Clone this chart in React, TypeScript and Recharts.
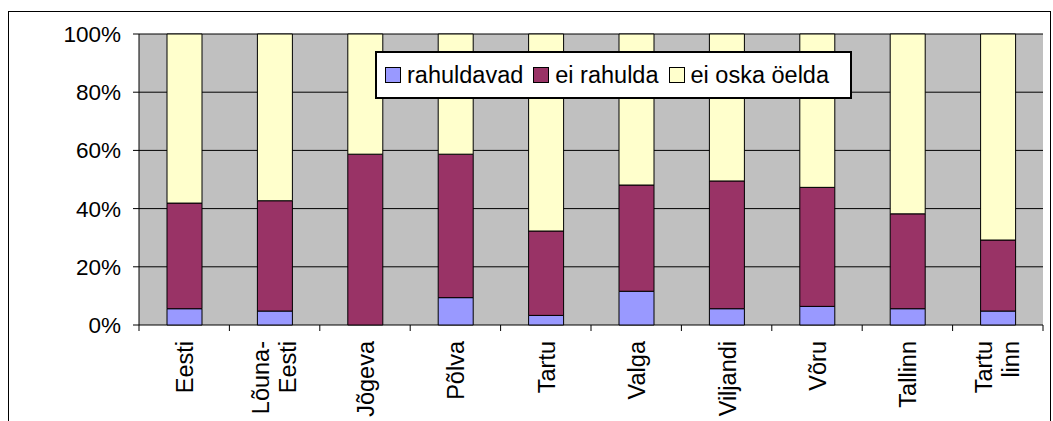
import {
  BarChart,
  Bar,
  XAxis,
  YAxis,
  CartesianGrid,
  Legend,
} from 'recharts';

const categories = [
  'Eesti',
  'Lõuna-\nEesti',
  'Jõgeva',
  'Põlva',
  'Tartu',
  'Valga',
  'Viljandi',
  'Võru',
  'Tallinn',
  'Tartu\nlinn',
];

const rahuldavad = [5.6, 4.8, 0, 9.4, 3.3, 11.6, 5.6, 6.4, 5.6, 4.8];
const eiRahulda = [36.3, 37.9, 58.7, 49.3, 29.0, 36.5, 43.9, 40.9, 32.6, 24.4];
const eiOska = [58.1, 57.3, 41.3, 41.3, 67.7, 51.9, 50.5, 52.7, 61.8, 70.8];

const yTicks = [0, 20, 40, 60, 80, 100];

const data = categories.map((name, i) => ({
  name,
  rahuldavad: rahuldavad[i],
  eiRahulda: eiRahulda[i],
  eiOska: eiOska[i],
}));

const FONT = "'Liberation Sans', Arial, sans-serif";
const TICK_SIZE = 6;
const TICK_MARGIN = 10;

// category label plus the tick marks that sit between categories
function CatTick({ x, y, payload, width, visibleTicksCount, index }: any) {
  const lines = String(payload.value).split('\n');
  const first = lines.length > 1 ? -6 : 9;
  const band = width / visibleTicksCount;
  const axisY = y - TICK_SIZE - TICK_MARGIN;
  const left = x - band / 2;
  const right = x + band / 2;
  return (
    <g>
      <line x1={left} x2={left} y1={axisY} y2={axisY + TICK_SIZE} stroke="#000" />
      {index === visibleTicksCount - 1 && (
        <line x1={right} x2={right} y1={axisY} y2={axisY + TICK_SIZE} stroke="#000" />
      )}
      <text
        transform={`rotate(-90, ${x}, ${y})`}
        x={x}
        y={y}
        textAnchor="end"
        fontSize={23.5}
        fill="#000"
      >
        {lines.map((l, i) => (
          <tspan key={i} x={x} dy={i === 0 ? first : 27}>
            {l}
          </tspan>
        ))}
      </text>
    </g>
  );
}

function LegendBox({ payload }: any) {
  const items = [...(payload ?? [])].reverse();
  return (
    <div
      style={{
        width: 477,
        height: 48,
        boxSizing: 'border-box',
        border: '2px solid #000',
        background: '#fff',
        display: 'flex',
        alignItems: 'center',
        paddingLeft: 8,
        fontSize: 23.5,
        color: '#000',
        fontFamily: FONT,
      }}
    >
      {items.map((p: any) => (
        <div key={p.value} style={{ display: 'flex', alignItems: 'center', marginRight: 10 }}>
          <span
            style={{
              width: 14,
              height: 14,
              background: p.color,
              border: '1px solid #000',
              marginRight: 6,
              display: 'inline-block',
            }}
          />
          <span>{p.value}</span>
        </div>
      ))}
    </div>
  );
}

export default function App() {
  return (
    <div
      style={{
        position: 'absolute',
        left: 8,
        top: 11,
        width: 1043,
        height: 420,
        border: '1px solid #000',
        boxSizing: 'border-box',
        background: '#fff',
        fontFamily: FONT,
      }}
    >
      <BarChart
        width={1041}
        height={418}
        data={data}
        margin={{ top: 22, right: 7, left: 0, bottom: 0 }}
        barSize={35}
      >
        <CartesianGrid
          vertical={false}
          fill="#c0c0c0"
          stroke="#000"
          horizontalValues={yTicks}
        />
        <XAxis
          dataKey="name"
          axisLine={false}
          tickLine={false}
          tickSize={TICK_SIZE}
          tickMargin={TICK_MARGIN}
          interval={0}
          height={105}
          tick={<CatTick />}
        />
        <YAxis
          domain={[0, 100]}
          ticks={yTicks}
          width={130}
          tickSize={6}
          tickMargin={12}
          stroke="#000"
          tick={{ fontSize: 22.5, fill: '#000' }}
          tickFormatter={(v) => `${v}%`}
        />
        <YAxis
          yAxisId="r"
          orientation="right"
          domain={[0, 100]}
          width={0}
          tick={false}
          tickLine={false}
          stroke="#808080"
        />
        <Legend
          layout="horizontal"
          verticalAlign="middle"
          wrapperStyle={{ position: 'absolute', left: 366, top: 39, width: 477 }}
          content={<LegendBox />}
        />
        <Bar dataKey="rahuldavad" name="rahuldavad" stackId="s" fill="#9999ff" stroke="#000" isAnimationActive={false} />
        <Bar dataKey="eiRahulda" name="ei rahulda" stackId="s" fill="#993366" stroke="#000" isAnimationActive={false} />
        <Bar dataKey="eiOska" name="ei oska öelda" stackId="s" fill="#ffffcc" stroke="#000" isAnimationActive={false} />
      </BarChart>
    </div>
  );
}
